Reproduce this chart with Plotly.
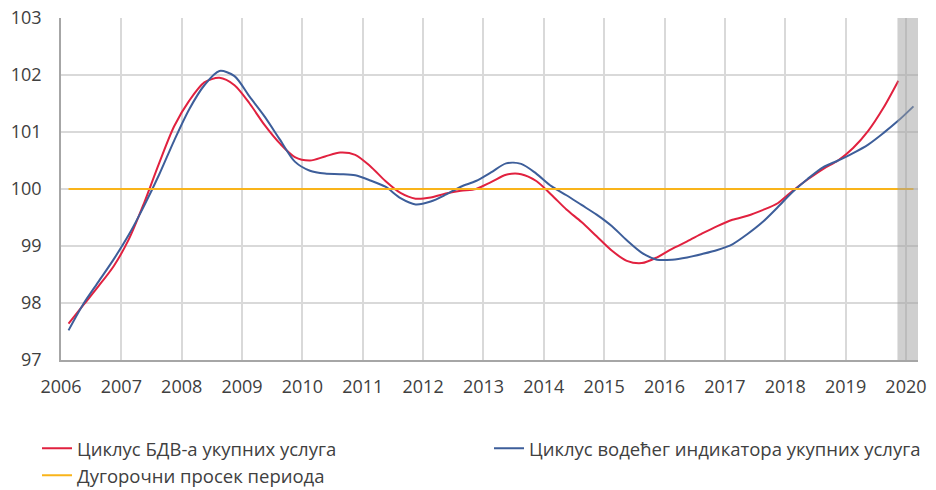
import plotly.graph_objects as go

# Quarterly data, 2006Q1 ...
gdp_cycle = [
    97.64, 97.97, 98.30, 98.65, 99.12, 99.75, 100.45, 101.10,
    101.55, 101.87, 101.95, 101.82, 101.50, 101.12, 100.80, 100.56,
    100.50, 100.57, 100.64, 100.60, 100.40, 100.14, 99.93, 99.83,
    99.85, 99.92, 99.97, 100.00, 100.12, 100.25, 100.26, 100.14,
    99.90, 99.64, 99.42, 99.17, 98.92, 98.74, 98.70, 98.80,
    98.95, 99.08, 99.22, 99.35, 99.46, 99.53, 99.63, 99.75,
    99.97, 100.17, 100.35, 100.50, 100.72, 101.02, 101.42, 101.90,
]
leading_cycle = [
    97.52, 97.99, 98.38, 98.77, 99.20, 99.70, 100.25, 100.85,
    101.40, 101.82, 102.07, 101.98, 101.62, 101.27, 100.87, 100.48,
    100.32, 100.27, 100.26, 100.24, 100.15, 100.04, 99.84, 99.73,
    99.78, 99.90, 100.04, 100.14, 100.29, 100.45, 100.44, 100.27,
    100.05, 99.89, 99.72, 99.55, 99.35, 99.10, 98.88, 98.76,
    98.76, 98.80, 98.86, 98.93, 99.03, 99.21, 99.42, 99.68,
    99.95, 100.18, 100.38, 100.50, 100.63, 100.78, 100.98, 101.20,
    101.45,
]
long_term_avg = 100.0
year_ticks = list(range(2006, 2021))
y_ticks = [97, 98, 99, 100, 101, 102, 103]
names = ["Циклус БДВ-а укупних услуга",
         "Циклус водећег индикатора укупних услуга",
         "Дугорочни просек периода"]

first_year = 2006
x_gdp = [first_year + 0.125 + 0.25 * i for i in range(len(gdp_cycle))]
x_lead = [first_year + 0.125 + 0.25 * i for i in range(len(leading_cycle))]
x_avg = [x_lead[0], x_lead[-1]]

RED = "#E1213F"
BLUE = "#3D5E9A"
GOLD = "#F9B41A"
FONT = "Open Sans"

fig = go.Figure()
fig.add_trace(go.Scatter(x=x_gdp, y=gdp_cycle, mode="lines", name=names[0],
                         line=dict(color=RED, width=2, shape="spline", smoothing=0.8)))
fig.add_trace(go.Scatter(x=x_lead, y=leading_cycle, mode="lines", name=names[1],
                         line=dict(color=BLUE, width=2, shape="spline", smoothing=0.8)))
fig.add_trace(go.Scatter(x=x_avg, y=[long_term_avg, long_term_avg], mode="lines", name=names[2],
                         line=dict(color=GOLD, width=2)))

fig.add_shape(type="rect", xref="x", yref="y", x0=2019.86, x1=2020.2, y0=97, y1=103.06,
              fillcolor="rgba(160,160,160,0.5)", line=dict(width=0), layer="above")

fig.update_layout(
    width=936, height=490,
    margin=dict(l=61, r=18, t=18, b=130, autoexpand=False),
    paper_bgcolor="white", plot_bgcolor="white",
    font=dict(family=FONT, size=18, color="#404040"),
    showlegend=True,
    legend=dict(orientation="h", xref="paper", yref="paper",
                x=-0.028, y=-0.204, xanchor="left", yanchor="top",
                entrywidth=407, entrywidthmode="pixels",
                font=dict(family=FONT, size=18.5, color="#404040"),
                tracegroupgap=0),
)
fig.update_xaxes(range=[2006, 2020.2], tickmode="array", tickvals=year_ticks,
                 ticktext=[str(y) for y in year_ticks],
                 showgrid=True, gridcolor="#D9D9D9", gridwidth=1.5,
                 showline=True, linecolor="#A6A6A6", linewidth=1.5,
                 ticks="", zeroline=False, ticklabelstandoff=10,
                 tickfont=dict(size=18))
fig.update_yaxes(range=[97, 103], tickmode="array", tickvals=y_ticks,
                 showgrid=True, gridcolor="#D9D9D9", gridwidth=1.5,
                 showline=True, linecolor="#A6A6A6", linewidth=1.5,
                 ticks="", zeroline=False, ticklabelstandoff=14,
                 tickfont=dict(size=18))

fig.write_html("out.html", config={"displayModeBar": False},
               post_script="document.body.style.margin='0';document.body.style.overflow='hidden';")
